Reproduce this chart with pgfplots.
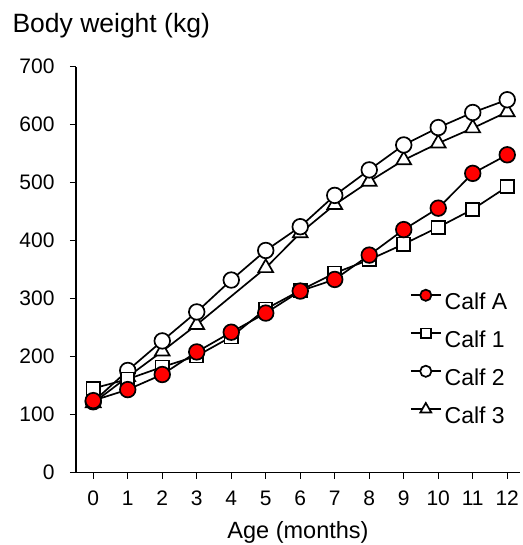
\documentclass[border=0pt]{standalone}
\usepackage{fontspec}
\setmainfont{Liberation Sans}
\usepackage{pgfplots}
\pgfplotsset{compat=1.18}

\definecolor{calfred}{RGB}{255,0,0}

\begin{document}
\begin{tikzpicture}
\begin{axis}[
    scale only axis,
    width=444pt, height=405.8pt,
    xmin=-0.5, xmax=12.37,
    ymin=0, ymax=700,
    clip=false,
    axis x line*=bottom, axis y line*=left,
    axis line style={line width=1.4pt, -},
    tick align=outside, major tick length=6pt,
    tick style={line width=1.4pt, black},
    xtick={0,...,12}, ytick={0,100,...,700},
    /pgf/number format/assume math mode=true,
    tick label style={font=\fontsize{21}{25}\selectfont},
    yticklabel style={xshift=-12pt},
    xticklabel style={yshift=-9pt},
    xlabel={Age (months)},
    xlabel style={font=\fontsize{23.5}{27}\selectfont, yshift=-9pt},
    every axis y label/.style={at={(rel axis cs:0,1)}, anchor=base west,
        xshift=-67pt, yshift=33.7pt, font=\fontsize{26.5}{30}\selectfont},
    ylabel={Body weight (kg)},
    reverse legend,
    legend cell align=left,
    legend style={at={(axis cs:9.18,319)}, anchor=north west, draw=none, fill=none,
        inner sep=0pt, outer sep=0pt, row sep=11.5pt, column sep=3pt,
        font=\fontsize{23}{27}\selectfont,
        nodes={inner sep=0pt, text height=16.5pt, text depth=4.5pt}},
    legend image code/.code={
        \path[draw=none, fill=none] (0pt,0pt) rectangle (30pt,16pt);
        \draw[mark repeat=2, mark phase=2, #1]
            plot coordinates {(0pt,8.3pt) (15pt,8.3pt) (30pt,8.3pt)};},
    every axis plot/.append style={line width=1.7pt, black},
]
\addplot[mark=triangle*, mark size=8.5pt, mark options={fill=white},
    legend image post style={mark size=6.3pt}] coordinates {
    (0,120) (1,165) (2,209) (3,255) (5,353) (6,413) (7,462) (8,502)
    (9,539) (10,568) (11,594) (12,622)};
\addlegendentry{Calf 3}
\addplot[mark=*, mark size=7.8pt, mark options={fill=white},
    legend image post style={mark size=5.6pt}] coordinates {
    (0,122) (1,176) (2,227) (3,277) (4,332) (5,383) (6,424) (7,478)
    (8,522) (9,565) (10,595) (11,621) (12,643)};
\addlegendentry{Calf 2}
\addplot[mark=square*, mark size=6.6pt, mark options={fill=white},
    legend image post style={mark size=4.9pt}] coordinates {
    (0,145) (1,161) (2,182) (3,201) (4,234) (5,282) (6,314) (7,344)
    (8,367) (9,394) (10,423) (11,454) (12,493)};
\addlegendentry{Calf 1}
\addplot[mark=*, mark size=7.8pt, mark options={fill=calfred},
    legend image post style={mark size=5.6pt}] coordinates {
    (0,124) (1,143) (2,169) (3,208) (4,242) (5,275) (6,313) (7,333)
    (8,375) (9,419) (10,456) (11,516) (12,548)};
\addlegendentry{Calf A}
\draw[line width=1.4pt] (rel axis cs:0,0) -- ++(-6.5pt,0);
\end{axis}
\pgfresetboundingbox
\path[use as bounding box] (-76pt,-72.5pt) rectangle (446pt,472.5pt);
\end{tikzpicture}
\end{document}
